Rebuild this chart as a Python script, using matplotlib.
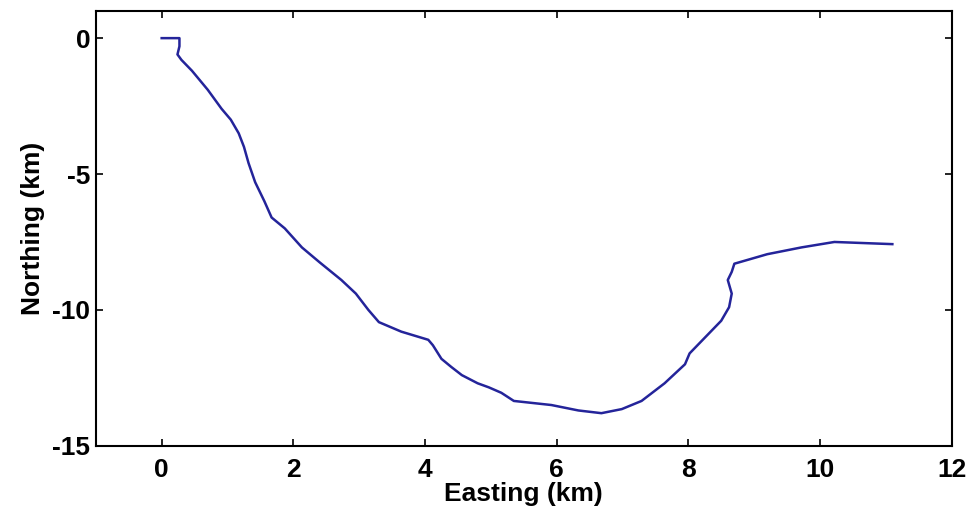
import matplotlib.pyplot as plt

# trajetoria (km)
easting = [0.0, 0.27, 0.27, 0.24, 0.30, 0.46, 0.70, 0.91, 1.05, 1.17, 1.25, 1.32, 1.42,
           1.56, 1.67, 1.87, 2.13, 2.40, 2.73, 2.95, 3.14, 3.30, 3.64, 4.05, 4.12,
           4.25, 4.40, 4.56, 4.80, 4.97, 5.16, 5.35, 5.92, 6.33, 6.68, 6.99, 7.29,
           7.64, 7.95, 8.02, 8.30, 8.50, 8.62, 8.66, 8.60, 8.66, 8.70, 9.20, 9.72,
           10.22, 11.10]
northing = [0.0, 0.0, -0.30, -0.60, -0.80, -1.20, -1.90, -2.60, -3.00, -3.50, -4.00,
            -4.60, -5.30, -6.00, -6.60, -7.00, -7.70, -8.25, -8.90, -9.40, -10.00,
            -10.45, -10.80, -11.10, -11.30, -11.80, -12.10, -12.40, -12.70, -12.85,
            -13.05, -13.35, -13.50, -13.70, -13.80, -13.65, -13.35, -12.70, -12.00,
            -11.60, -10.90, -10.40, -9.90, -9.40, -8.90, -8.60, -8.30, -7.95, -7.70,
            -7.50, -7.58]

xticks = [0, 2, 4, 6, 8, 10, 12]
yticks = [0, -5, -10, -15]

plt.rcParams['font.family'] = ['Liberation Sans', 'DejaVu Sans']
plt.rcParams['font.weight'] = 'bold'
plt.rcParams['axes.unicode_minus'] = False

fig = plt.figure(figsize=(9.78, 5.22), dpi=100)
ax = fig.add_axes([0.098, 0.146, 0.875, 0.833])
ax.plot(easting, northing, color='#24249a', linewidth=1.8)

ax.set_xlim(-1, 12)
ax.set_ylim(-15, 1)
ax.set_xticks(xticks)
ax.tick_params(direction='in', top=True, right=True, length=5, width=1.2,
               labelsize=19)
ax.set_yticks(yticks)
ax.tick_params(axis='x', pad=9)
ax.tick_params(axis='y', pad=4)
for s in ax.spines.values():
    s.set_linewidth(1.5)
ax.set_xlabel('Easting (km)', fontsize=19, fontweight='bold', labelpad=0)
ax.set_ylabel('Northing (km)', fontsize=19, fontweight='bold', labelpad=5)

fig.savefig('out.png', dpi=100)
